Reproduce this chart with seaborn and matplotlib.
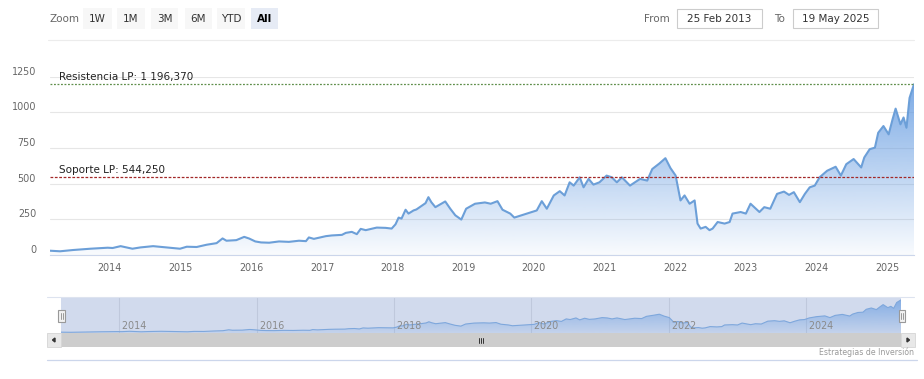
import numpy as np
import pandas as pd
import matplotlib
matplotlib.use("Agg")
import matplotlib.pyplot as plt
import matplotlib.dates as mdates
from matplotlib.patches import Rectangle, Polygon
from matplotlib.lines import Line2D
import seaborn as sns

# ---------------- data ----------------
dates = [
    "2013-02-25", "2013-04-18", "2013-06-25", "2013-09-22", "2013-12-20",
    "2014-01-15", "2014-02-25", "2014-04-27", "2014-06-07", "2014-08-12", "2014-10-23", "2014-12-29",
    "2015-02-02", "2015-03-25", "2015-05-16", "2015-07-06", "2015-08-06", "2015-08-26", "2015-10-16",
    "2015-11-26", "2015-12-22",
    "2016-01-22", "2016-02-21", "2016-04-03", "2016-05-24", "2016-07-14", "2016-09-04", "2016-10-10",
    "2016-10-25", "2016-11-20",
    "2017-01-21", "2017-02-21", "2017-04-14", "2017-05-04", "2017-06-04", "2017-06-30", "2017-07-20",
    "2017-08-15", "2017-10-11", "2017-11-26", "2017-12-27",
    "2018-01-16", "2018-02-01", "2018-02-16", "2018-03-09", "2018-03-24", "2018-04-19", "2018-05-04",
    "2018-06-20", "2018-07-05", "2018-07-20", "2018-08-10", "2018-09-10", "2018-09-30", "2018-10-26",
    "2018-11-21", "2018-12-22",
    "2019-01-16", "2019-03-03", "2019-04-23", "2019-05-23", "2019-06-27", "2019-07-23", "2019-09-01",
    "2019-09-22", "2019-11-27",
    "2020-01-16", "2020-02-11", "2020-03-08", "2020-04-13", "2020-05-14", "2020-06-08", "2020-07-04",
    "2020-07-25", "2020-08-25", "2020-09-14", "2020-10-10", "2020-11-04", "2020-12-05",
    "2021-01-11", "2021-02-07", "2021-03-05", "2021-03-31", "2021-05-12", "2021-07-03", "2021-08-09",
    "2021-09-04", "2021-10-11", "2021-11-11", "2021-12-07",
    "2022-01-03", "2022-01-28", "2022-02-18", "2022-03-16", "2022-04-11", "2022-04-26", "2022-05-12",
    "2022-06-07", "2022-06-27", "2022-07-13", "2022-08-08", "2022-09-13", "2022-10-09", "2022-10-24",
    "2022-12-05",
    "2023-01-01", "2023-01-25", "2023-03-12", "2023-04-06", "2023-05-07", "2023-06-11", "2023-07-17",
    "2023-08-12", "2023-09-06", "2023-10-07", "2023-11-02", "2023-11-27", "2023-12-23",
    "2024-01-17", "2024-02-25", "2024-04-09", "2024-05-06", "2024-06-03", "2024-07-11", "2024-08-19",
    "2024-09-04", "2024-10-02", "2024-10-29", "2024-11-15", "2024-12-12",
    "2025-01-08", "2025-01-28", "2025-02-13", "2025-03-10", "2025-03-26", "2025-04-10", "2025-04-26",
    "2025-05-19",
]
values = [
    30, 26, 35, 44, 51,
    49, 62, 44, 53, 62, 53, 44,
    58, 56, 72, 83, 116, 100, 104, 127, 115,
    95, 88, 86, 95, 92, 100, 97, 123, 113,
    132, 137, 141, 155, 162, 146, 183, 174, 192, 190, 185,
    215, 262, 255, 317, 290, 312, 319, 363, 405, 370, 335, 359, 375, 324, 278, 248,
    324, 359, 368, 359, 377, 317, 290, 262, 290,
    312, 377, 324, 417, 447, 417, 509, 486, 544, 474, 533, 493, 509,
    556, 544, 509, 544, 486, 533, 521, 602, 641, 678, 609,
    556, 382, 417, 359, 382, 220, 185, 197, 174, 185, 231, 220, 231, 290, 301,
    290, 359, 301, 335, 324, 428, 444, 421, 440, 370, 428, 474, 486,
    544, 590, 618, 556, 636, 672, 613, 683, 741, 752, 856, 903,
    845, 949, 1025, 915, 963, 891, 1100, 1196,
]
resistance_value = 1196.370
support_value = 544.250
resistance_label = "Resistencia LP: 1 196,370"
support_label = "Soporte LP: 544,250"
y_ticks = [0, 250, 500, 750, 1000, 1250]
x_tick_years = list(range(2014, 2026))
nav_tick_years = [2014, 2016, 2018, 2020, 2022, 2024]
zoom_buttons = ["1W", "1M", "3M", "6M", "YTD", "All"]
from_date_text = "25 Feb 2013"
to_date_text = "19 May 2025"
credit_text = "Estrategias de Inversión"

df = pd.DataFrame({"date": pd.to_datetime(dates), "value": values})

# ---------------- style ----------------
sns.set_style("white")
plt.rcParams["font.family"] = ["DejaVu Sans"]

W, H = 924, 379
fig = plt.figure(figsize=(W / 100, H / 100), dpi=100)
fig.patch.set_facecolor("white")


def fx(x):
    return x / W


def fy(y):
    return 1 - y / H


def rect(x0, y0, x1, y1, **kw):
    fig.add_artist(Rectangle((fx(x0), fy(y1)), (x1 - x0) / W, (y1 - y0) / H,
                             transform=fig.transFigure, **kw))


def line(x0, y0, x1, y1, **kw):
    fig.add_artist(Line2D([fx(x0), fx(x1)], [fy(y0), fy(y1)], transform=fig.transFigure, **kw))


def text(x, y, s, **kw):
    fig.text(fx(x), fy(y), s, **kw)


LINE_COLOR = "#6c9fd8"
BASE_RGB = np.array([100, 155, 225]) / 255.0
AXIS_COLOR = "#ccd6eb"
GRID_COLOR = "#e6e6e6"

xmin = pd.Timestamp("2013-02-25")
xmax = pd.Timestamp("2025-05-19")


def gradient_fill(ax, x, y, ylo, yhi, a0, a1, zorder=1):
    poly = ax.fill_between(x, y, ylo, color="none", lw=0)
    n = 256
    grad = np.zeros((n, 1, 4))
    grad[:, 0, :3] = BASE_RGB
    grad[:, 0, 3] = np.linspace(a1, a0, n)  # top row first
    x0n, x1n = mdates.date2num(xmin), mdates.date2num(xmax)
    im = ax.imshow(grad, aspect="auto", extent=[x0n, x1n, ylo, yhi], origin="upper",
                   zorder=zorder, interpolation="bilinear")
    path = poly.get_paths()[0]
    im.set_clip_path(path, transform=ax.transData)
    return im


# ---------------- main chart ----------------
ax = fig.add_axes([fx(50), fy(255), (914 - 50) / W, (255 - 76.5) / H])
ax.set_facecolor("white")
gradient_fill(ax, df["date"], df["value"], 0, 1250, 0.04, 0.88, zorder=1)
sns.lineplot(data=df, x="date", y="value", ax=ax, color=LINE_COLOR, lw=1.5, zorder=3)
ax.set_xlim(xmin, xmax)
ax.set_ylim(0, 1250)
ax.set_xlabel("")
ax.set_ylabel("")

ax.set_yticks(y_ticks)
ax.set_yticklabels([str(v) for v in y_ticks])
ax.yaxis.grid(True, color=GRID_COLOR, lw=0.8, zorder=0)
ax.set_axisbelow(True)
ax.tick_params(axis="y", length=0, pad=10, labelsize=6.9, labelcolor="#666666")
for lab in ax.get_yticklabels():
    lab.set_verticalalignment("bottom")

xt = [pd.Timestamp(f"{y}-01-01") for y in x_tick_years]
ax.set_xticks(xt)
ax.set_xticklabels([str(y) for y in x_tick_years])
ax.tick_params(axis="x", length=3.6, width=0.8, color=AXIS_COLOR, pad=2.5,
               labelsize=6.9, labelcolor="#666666")
for s in ["top", "left", "right"]:
    ax.spines[s].set_visible(False)
ax.spines["bottom"].set_color(AXIS_COLOR)
ax.spines["bottom"].set_linewidth(0.8)

ax.axhline(resistance_value, color="#5f8f4a", lw=0.9, ls=(0, (1.5, 1.3)), zorder=4)
ax.axhline(support_value, color="#a32828", lw=0.9, ls=(0, (2.2, 1.3)), zorder=4)
ax.annotate(resistance_label, xy=(0, resistance_value), xycoords=("axes fraction", "data"),
            xytext=(9, 2), textcoords="offset pixels", fontsize=7.5, color="#222222",
            va="bottom", ha="left", zorder=5)
ax.annotate(support_label, xy=(0, support_value), xycoords=("axes fraction", "data"),
            xytext=(9, 2), textcoords="offset pixels", fontsize=7.5, color="#222222",
            va="bottom", ha="left", zorder=5)

# ---------------- navigator ----------------
nav = fig.add_axes([fx(61), fy(333), (901 - 61) / W, (333 - 297) / H])
nav.set_facecolor("#d1daed")
gradient_fill(nav, df["date"], df["value"], 0, 1300, 0.12, 0.75, zorder=2)
sns.lineplot(data=df, x="date", y="value", ax=nav, color="#7ea7dc", lw=0.8, zorder=3)
nav.set_xlim(xmin, xmax)
nav.set_ylim(0, 1300)
nav.set_xlabel("")
nav.set_ylabel("")
nav.set_xticks([])
nav.set_yticks([])
for s in nav.spines.values():
    s.set_visible(False)
for yr in nav_tick_years:
    d = pd.Timestamp(f"{yr}-01-01")
    nav.axvline(d, color="#bfc8dc", lw=0.8, zorder=1)
    nav.text(d, 0.2, f" {yr}", transform=nav.get_xaxis_transform(), fontsize=6.9,
             color="#8a8a8a", va="center", ha="left", zorder=4)

# navigator outline top
line(47, 297, 914, 297, color="#dde3ef", lw=0.8)
# handles
for hx in (58.5, 898.5):
    rect(hx, 310, hx + 6.5, 322, facecolor="#f2f2f2", edgecolor="#999999", lw=0.8, zorder=10)
    line(hx + 2.6, 313, hx + 2.6, 319, color="#999999", lw=0.7, zorder=11)
    line(hx + 4.0, 313, hx + 4.0, 319, color="#999999", lw=0.7, zorder=11)

# scrollbar
rect(47, 333, 915, 347, facecolor="#f2f2f2", edgecolor="none")
rect(61, 333, 901, 347, facecolor="#cdcdcd", edgecolor="none")
rect(47, 333, 61, 347, facecolor="#e8e8e8", edgecolor="#d6d6d6", lw=0.6)
rect(901, 333, 915, 347, facecolor="#e8e8e8", edgecolor="#d6d6d6", lw=0.6)
fig.add_artist(Polygon([[fx(52.5), fy(340)], [fx(55), fy(338)], [fx(55), fy(342)]],
                       closed=True, transform=fig.transFigure, color="#333333"))
fig.add_artist(Polygon([[fx(909.5), fy(340)], [fx(907), fy(338)], [fx(907), fy(342)]],
                       closed=True, transform=fig.transFigure, color="#333333"))
for gx in (478.5, 481, 483.5):
    line(gx, 337.5, gx, 342.5, color="#333333", lw=0.7)

# credit and bottom line
text(914, 352.5, credit_text, fontsize=5.6, color="#999999", ha="right", va="center")
line(47, 360, 917, 360, color="#ccd6eb", lw=0.9)

# ---------------- range selector ----------------
line(48, 39.5, 914, 39.5, color="#ececec", lw=0.8)
text(49, 18.5, "Zoom", fontsize=7.5, color="#666666", ha="left", va="center")
btn_x = [(83.3, 111.7), (116.7, 145), (150.7, 178.3), (185, 211.7), (216.7, 245), (250.7, 278.3)]
for (b0, b1), lab in zip(btn_x, zoom_buttons):
    sel = lab == "All"
    rect(b0, 8.5, b1, 29, facecolor="#e6ebf5" if sel else "#f7f7f7", edgecolor="none")
    text((b0 + b1) / 2, 18.5, lab, fontsize=7.5, color="#000000" if sel else "#333333",
         ha="center", va="center", fontweight="bold" if sel else "normal")

text(656.5, 18.5, "From", fontsize=7.5, color="#666666", ha="center", va="center")
text(779, 18.5, "To", fontsize=7.5, color="#666666", ha="center", va="center")
rect(677, 9.3, 762, 28.3, facecolor="white", edgecolor="#cccccc", lw=0.8)
rect(793, 9.3, 878, 28.3, facecolor="white", edgecolor="#cccccc", lw=0.8)
text(719.5, 18.5, from_date_text, fontsize=7.5, color="#333333", ha="center", va="center")
text(835.5, 18.5, to_date_text, fontsize=7.5, color="#333333", ha="center", va="center")

fig.savefig("out.png", dpi=100, facecolor="white")
